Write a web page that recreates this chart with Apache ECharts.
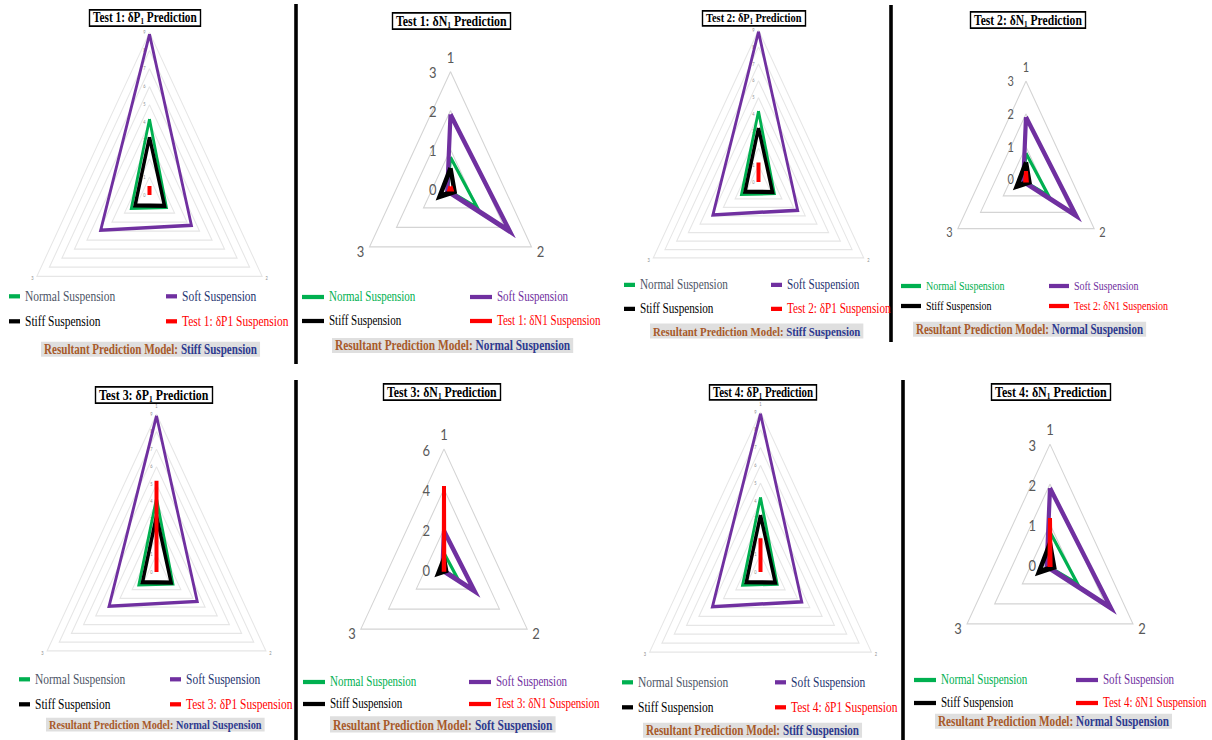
<!DOCTYPE html>
<html>
<head>
<meta charset="utf-8">
<script src="https://cdn.jsdelivr.net/npm/echarts@6/dist/echarts.min.js"></script>
<style>
  html, body { margin: 0; padding: 0; background: #fff; width: 1212px; height: 740px; }
  /* the whole figure is drawn in a flatter box and stretched vertically */
  #chart { position: absolute; left: 0; top: 0; width: 1212px; height: 592px; transform: scaleY(1.25); transform-origin: 0 0; }
</style>
</head>
<body>
<div id="chart"></div>
<script>
const S = 1.25;

// ---- data -------------------------------------------------------------
const AXIS_NAMES = ['1', '2', '3'];
const MODEL_NAMES = ['Normal Suspension', 'Soft Suspension', 'Stiff Suspension'];
const TESTS = ['Test 1', 'Test 2', 'Test 3', 'Test 4'];

// δP1 predictions of the three suspension models (axes 1, 2, 3)
const normalP = [4.2, 1.35, 1.45];
const softP   = [8.9, 3.35, 3.9];
const stiffP  = [3.2, 1.2, 1.15];
// δN1 predictions of the three suspension models (axes 1, 2, 3)
const normalN = [0.8, 1.0, 0.1];
const softN   = [1.9, 2.2, 0.12];
const stiffN  = [0.52, 0.15, 0.4];

// measured values of each test (axes 1, 2, 3)
const testP = [[0.5, 0, 0], [1.15, 0, 0], [5.2, 0, 0], [1.9, 0, 0]];
const testN = [[0.05, 0.03, 0.03], [0.25, 0.03, 0.03], [4.15, 0.02, 0.02], [1.15, 0.02, 0.02]];

// radial scale of each panel
const maxP = [9, 9, 9, 9];
const splitP = [9, 9, 9, 9];
const maxN = [3, 3, 6, 3];
const splitN = [3, 3, 3, 3];

// resulting model of each test
const resultP = ['Stiff Suspension', 'Stiff Suspension', 'Normal Suspension', 'Stiff Suspension'];
const resultN = ['Normal Suspension', 'Normal Suspension', 'Soft Suspension', 'Normal Suspension'];

// ---- layout (panel order: T1 δP1, T1 δN1, T2 δP1, T2 δN1, T3 δP1, ...) ----
const LAYOUT = [
  { tx: 89,  ty: 8,   tfs: 11.3, cx: 149.5, cy: 195,   r: 130,  lx1: 9,   lx2: 166,  ly1: 296, ly2: 321, lw: 11, lfs: 11.5, rx: 41,  ry: 341, rfs: 11.1 },
  { tx: 392, ty: 11,  tfs: 11.9, cx: 450.5, cy: 188.5, r: 93.5, lx1: 302, lx2: 470,  ly1: 297, ly2: 321, lw: 22, lfs: 11,   rx: 332, ry: 337, rfs: 11.4 },
  { tx: 702, ty: 9,   tfs: 10.4, cx: 758.5, cy: 182,   r: 121.5,lx1: 624, lx2: 771,  ly1: 285, ly2: 309, lw: 11, lfs: 11.2, rx: 650, ry: 323, rfs: 10.8 },
  { tx: 970, ty: 10,  tfs: 11.6, cx: 1026,  cy: 179.5, r: 78.7, lx1: 901, lx2: 1049, ly1: 286, ly2: 306, lw: 20, lfs: 10,   rx: 913, ry: 321, rfs: 11   },
  { tx: 95,  ty: 385, tfs: 11.9, cx: 156.5, cy: 572,   r: 126.3,lx1: 19,  lx2: 170,  ly1: 679, ly2: 704, lw: 11, lfs: 11.5, rx: 46,  ry: 717, rfs: 10.3 },
  { tx: 383, ty: 382, tfs: 11.8, cx: 444,   cy: 569,   r: 96,   lx1: 303, lx2: 469,  ly1: 682, ly2: 704, lw: 22, lfs: 11,   rx: 330, ry: 716, rfs: 11.5 },
  { tx: 709, ty: 383, tfs: 10.9, cx: 760.5, cy: 572,   r: 128,  lx1: 622, lx2: 775,  ly1: 682, ly2: 707, lw: 11, lfs: 11.5, rx: 643, ry: 722, rfs: 11.1 },
  { tx: 991, ty: 382, tfs: 12,   cx: 1050,  cy: 564,   r: 95.8, lx1: 914, lx2: 1076, ly1: 680, ly2: 703, lw: 22, lfs: 11,   rx: 935, ry: 713, rfs: 11.2 }
];

// vertical separators: [x, yTop, yBottom]
const SEPARATORS = [[296, 4, 364], [891, 5, 342], [296, 380, 740], [903, 380, 740]];

const LINE_COLORS = ['#00b050', '#7030a0', '#000000', '#ff0000'];
const LEGEND_TEXT_P = ['#4d5566', '#1f3470', '#000000', '#ff0000'];
const LEGEND_TEXT_N = ['#00b050', '#7030a0', '#000000', '#ff0000'];
const SERIF = 'Liberation Serif, Times New Roman, serif';
const SANS = 'Lato, Open Sans, sans-serif';

// ECharts places radar indicators counter-clockwise; axis 3 sits lower left
const ORDER = [0, 2, 1];
const reorder = v => ORDER.map(k => v[k]);

// ---- build panels -------------------------------------------------------
const panels = [];
for (let t = 0; t < 4; t++) {
  panels.push({ sym: 'P', t, max: maxP[t], split: splitP[t],
    models: [normalP, softP, stiffP], test: testP[t], result: resultP[t] });
  panels.push({ sym: 'N', t, max: maxN[t], split: splitN[t],
    models: [normalN, softN, stiffN], test: testN[t], result: resultN[t] });
}

const radar = [], series = [], legend = [], title = [], graphic = [];

panels.forEach((p, i) => {
  const L = LAYOUT[i];
  const isP = p.sym === 'P';
  const small = i === 3;
  const testName = `${TESTS[p.t]}: δ${p.sym}1 Suspension`;
  const names = MODEL_NAMES.concat([testName]);
  const tickColor = isP ? '#8c8c8c' : '#595959';

  radar.push({
    center: [L.cx, L.cy / S],
    radius: L.r,
    startAngle: 90,
    shape: 'polygon',
    splitNumber: p.split,
    indicator: ORDER.map((k, j) => ({
      name: AXIS_NAMES[k], min: 0, max: p.max, color: tickColor, axisLabel: { show: j === 0 }
    })),
    nameGap: isP ? 4 : 6,
    axisName: {
      color: tickColor,
      fontFamily: SANS,
      fontSize: isP ? 4 : (small ? 11 : 13)
    },
    splitLine: { lineStyle: { color: isP ? '#e6e6e6' : '#d4d4d4', width: 1 } },
    splitArea: { show: false },
    axisLine: { show: false },
    axisTick: { show: false },
    axisLabel: {
      show: true,
      showMinLabel: true,
      showMaxLabel: true,
      fontFamily: SANS,
      fontSize: isP ? 4 : (small ? 11 : 13),
      color: tickColor,
      margin: isP ? 4 : (small ? 12 : 14)
    }
  });

  const widths = isP ? [2.8, 2.8, 3.4, 4] : [3, 4.2, 4.4, 4];
  const values = p.models.concat([p.test]);
  series.push({
    type: 'radar',
    radarIndex: i,
    symbol: 'none',
    silent: true,
    animation: false,
    data: values.map((v, k) => ({
      name: names[k],
      value: reorder(v),
      lineStyle: { color: LINE_COLORS[k], width: widths[k], join: 'miter', miterLimit: 12 },
      itemStyle: { color: LINE_COLORS[k] }
    }))
  });

  // one legend per entry so the entries sit in a 2 x 2 grid
  const spots = [[L.lx1, L.ly1], [L.lx2, L.ly1], [L.lx1, L.ly2], [L.lx2, L.ly2]];
  const txtColors = isP ? LEGEND_TEXT_P : LEGEND_TEXT_N;
  spots.forEach(([x, y], k) => {
    legend.push({
      left: x,
      top: y / S - L.lfs / 2,
      padding: 0,
      icon: 'rect',
      itemWidth: L.lw,
      itemHeight: 3.4,
      selectedMode: false,
      textStyle: { fontFamily: SERIF, fontSize: L.lfs, color: txtColors[k] },
      data: [{ name: names[k], itemStyle: { color: LINE_COLORS[k] }, textStyle: { color: txtColors[k] } }]
    });
  });

  // framed panel heading with subscript
  const sub = Math.round(L.tfs * 0.62 * 10) / 10;
  title.push({
    text: `{m|${TESTS[p.t]}: δ${p.sym}}{s|1}{m| Prediction}`,
    left: L.tx,
    top: L.ty / S,
    padding: [1, 4, 0, 4],
    borderColor: '#000',
    borderWidth: 1.4,
    backgroundColor: '#fff',
    textStyle: {
      rich: {
        m: { fontFamily: SERIF, fontWeight: 'bold', fontSize: L.tfs, lineHeight: L.tfs + 2, color: '#000' },
        s: { fontFamily: SERIF, fontWeight: 'bold', fontSize: sub, lineHeight: sub, verticalAlign: 'bottom', color: '#000' }
      }
    }
  });

  // resulting model
  title.push({
    text: `{a|Resultant Prediction Model: }{b|${p.result}}`,
    left: L.rx,
    top: L.ry / S,
    padding: [1, 3, 0, 3],
    backgroundColor: '#dfdfdf',
    textStyle: {
      rich: {
        a: { fontFamily: SERIF, fontWeight: 'bold', fontSize: L.rfs, lineHeight: L.rfs + 1, color: '#a85a2a' },
        b: { fontFamily: SERIF, fontWeight: 'bold', fontSize: L.rfs, lineHeight: L.rfs + 1, color: '#2e3a8f' }
      }
    }
  });
});

SEPARATORS.forEach(([x, y1, y2]) => {
  graphic.push({
    type: 'line',
    silent: true,
    shape: { x1: x, y1: y1 / S, x2: x, y2: y2 / S },
    style: { stroke: '#000', lineWidth: 3.6 }
  });
});

const chart = echarts.init(document.getElementById('chart'), null, { renderer: 'svg' });
chart.setOption({
  backgroundColor: '#fff',
  animation: false,
  title,
  legend,
  radar,
  series,
  graphic
});
</script>
</body>
</html>
